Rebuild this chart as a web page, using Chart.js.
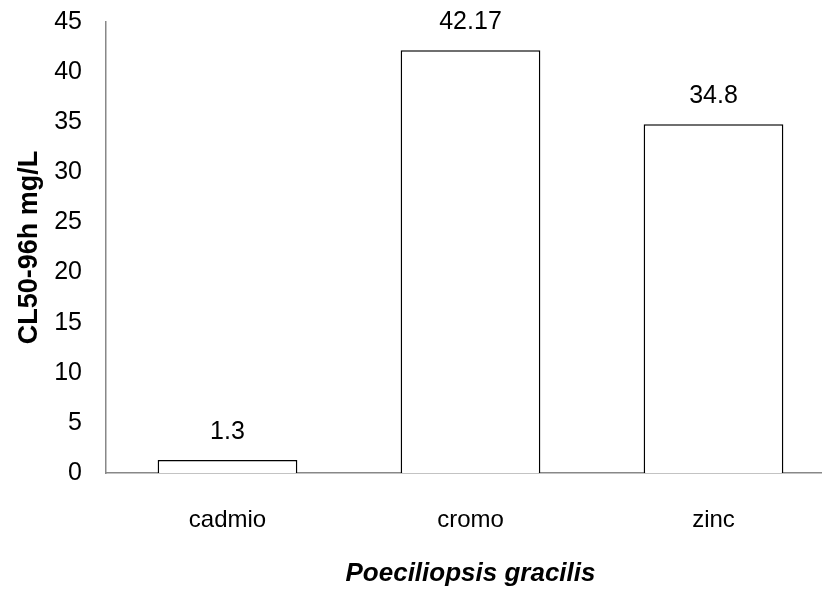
<!DOCTYPE html>
<html>
<head>
<meta charset="utf-8">
<script src="https://cdn.jsdelivr.net/npm/chart.js@4.4.1/dist/chart.umd.min.js"></script>
<style>
  html, body { margin: 0; padding: 0; background: #fff; }
  #wrap { width: 822px; height: 591px; overflow: hidden; position: relative; }
  canvas { display: block; }
</style>
</head>
<body>
<div id="wrap"><canvas id="c" width="840" height="591"></canvas></div>
<script>
// LC50 (96 h) of three metals for Poeciliopsis gracilis
const metals = ['cadmio', 'cromo', 'zinc'];
const lc50 = [1.3, 42.17, 34.8];
const valueLabels = ['1.3', '42.17', '34.8'];
const yTicks = [0, 5, 10, 15, 20, 25, 30, 35, 40, 45];

const FONT = '"Liberation Sans", Arial, sans-serif';

// write each bar's value above it
const barValues = {
  id: 'barValues',
  afterDatasetsDraw(chart) {
    const ctx = chart.ctx;
    const meta = chart.getDatasetMeta(0);
    ctx.save();
    ctx.font = '25px ' + FONT;
    ctx.fillStyle = '#000';
    ctx.textAlign = 'center';
    ctx.textBaseline = 'middle';
    meta.data.forEach((bar, i) => {
      ctx.fillText(valueLabels[i], bar.x, bar.y - 28);
    });
    ctx.restore();
  }
};

new Chart(document.getElementById('c'), {
  type: 'bar',
  data: {
    labels: metals,
    datasets: [{
      data: lc50,
      backgroundColor: '#ffffff',
      borderColor: '#000000',
      borderWidth: 1.5,
      categoryPercentage: 1,
      barPercentage: 0.575
    }]
  },
  options: {
    responsive: false,
    devicePixelRatio: 1,
    animation: false,
    layout: { padding: { top: 22, left: 0, right: 5, bottom: 0 } },
    plugins: {
      legend: { display: false },
      tooltip: { enabled: false }
    },
    scales: {
      x: {
        grid: { display: false, drawTicks: false },
        border: { color: '#888888', width: 1.5 },
        ticks: {
          color: '#000',
          font: { family: FONT, size: 24 },
          padding: 33
        },
        title: {
          display: true,
          text: 'Poeciliopsis gracilis',
          color: '#000',
          font: { family: FONT, size: 26, weight: 'bold', style: 'italic' },
          padding: { top: 0, bottom: 2 }
        },
        afterFit(scale) {
          scale.height = 118;
          scale.paddingLeft = 0;
          scale.paddingRight = 0;
        }
      },
      y: {
        min: 0,
        max: 45,
        grid: { display: false, drawTicks: false },
        border: { color: '#888888', width: 1.5 },
        afterBuildTicks(scale) {
          scale.ticks = yTicks.map(v => ({ value: v }));
        },
        ticks: {
          color: '#000',
          font: { family: FONT, size: 25 },
          padding: 24
        },
        title: {
          display: true,
          text: 'CL50-96h mg/L',
          color: '#000',
          font: { family: FONT, size: 27, weight: 'bold' },
          padding: { top: 13, bottom: 0 }
        },
        afterFit(scale) {
          scale.width = 106;
          scale.paddingTop = 0;
          scale.paddingBottom = 0;
        }
      }
    }
  },
  plugins: [barValues]
});
</script>
</body>
</html>
